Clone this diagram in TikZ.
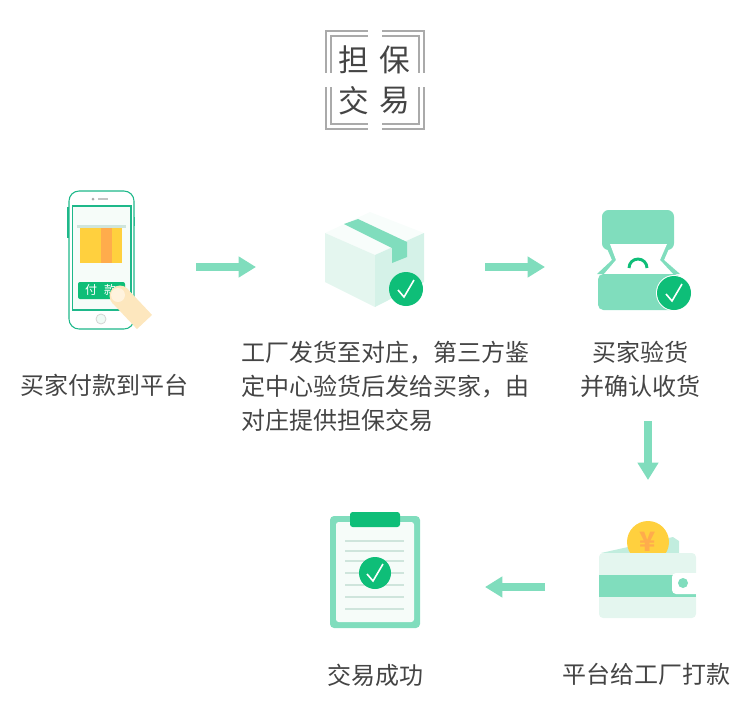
\documentclass[tikz,border=0pt]{standalone}
\usepackage{fontspec}
\setmainfont{Noto Sans CJK SC}
\definecolor{mintgreen}{RGB}{128, 221, 189}
\definecolor{deepgreen}{RGB}{14, 190, 120}
\definecolor{linegreen}{RGB}{30, 184, 138}
\definecolor{palemint}{RGB}{228, 246, 239}
\definecolor{rulegreen}{RGB}{207, 229, 220}
\definecolor{framegray}{RGB}{170, 170, 170}
\definecolor{textgray}{RGB}{68, 68, 68}
\definecolor{coinyellow}{RGB}{255, 208, 62}
\definecolor{coinorange}{RGB}{255, 172, 76}
\definecolor{fingerskin}{RGB}{253, 231, 190}
\definecolor{fingernail}{RGB}{255, 243, 222}
\usetikzlibrary{arrows.meta, positioning}

\tikzset{
  icon/.style={inner sep=0pt, outer sep=0pt},
  caption/.style={inner sep=0pt, outer sep=0pt, text=textgray, align=center, font=\fontsize{18}{25.5}\selectfont},
  titlechar/.style={inner sep=0pt, text=textgray, font=\fontsize{23}{23}\selectfont},
  flow/.style={draw=mintgreen, line width=6.5pt, -{Triangle[length=13pt, width=15pt]}},
  badge/.style={fill=deepgreen},
  tick/.style={draw=white, line width=1.2pt}
}

\begin{document}
\begin{tikzpicture}[x=0.75pt, y=-0.75pt]
  \useasboundingbox (0,0) rectangle (750,718);

  % Title frame
  \draw[framegray, line width=1.6pt] (326,31) rectangle (424,129);
  \draw[framegray, line width=0.8pt] (331,36) rectangle (419,124);
  \fill[white] (368,25) rectangle (382,135);
  \fill[white] (320,73) rectangle (430,87);
  \node[titlechar] (dan) at (354,60) {担};
  \node[titlechar] (bao) at (395,60) {保};
  \node[titlechar] (jiao) at (354,101) {交};
  \node[titlechar] (yi) at (395,101) {易};

  % Icon slots, their borders are where the arrows stop
  \node[icon, minimum width=144pt, minimum height=90pt] (phone) at (100,267) {};
  \node[icon, minimum width=171.75pt, minimum height=90pt] (parcel) at (370.5,267) {};
  \node[icon, minimum width=150pt, minimum height=90pt] (ringbox) at (645,267) {};
  \node[icon, minimum width=154.5pt, minimum height=160.5pt] (wallet) at (648,587) {};
  \node[icon, minimum width=165pt, minimum height=90pt] (clipboard) at (375,587) {};

  % Phone
  \draw[linegreen, line width=0.8pt] (68,207) -- (68,238) (134.5,217) -- (134.5,226);
  \draw[linegreen, line width=0.8pt, fill=white, rounded corners=7.5pt] (69,191) rectangle (134,329);
  \draw[linegreen, line width=0.8pt, fill=palemint!35] (72.5,206) rectangle (131,310);
  \fill[framegray] (93,199) circle (1.5);
  \draw[framegray!70, line width=0.8pt] (98,199) -- (108,199);
  \draw[framegray!50, fill=palemint!60, line width=0.6pt] (101,319) circle (5);
  \fill[coinyellow] (80,227) rectangle (122,263);
  \fill[coinorange] (101,227) rectangle (112,263);
  \fill[rulegreen] (77,225) rectangle (126,228);
  \node[icon, fill=deepgreen, rounded corners=1.5pt, minimum width=35.25pt, minimum height=12.75pt] (paybtn) at (101.5,290.5) {};
  \node[inner sep=0pt, text=white, font=\fontsize{9}{9}\selectfont] (fu) at (91,290) {付};
  \node[inner sep=0pt, text=white, font=\fontsize{9}{9}\selectfont] (kuan) at (110,290) {款};
  \draw[fingerskin, line width=15.5pt] (120,296) -- (144.5,322);
  \fill[fingerskin] (120,296) circle (10.5);
  \fill[fingernail] (118,295) circle (7);

  % Parcel
  \fill[palemint!25] (325,233) -- (370,212) -- (424,233) -- (375,255) -- cycle;
  \fill[palemint] (325,233) -- (375,255) -- (375,307) -- (325,282) -- cycle;
  \fill[palemint!85!mintgreen] (375,255) -- (424,233) -- (424,282) -- (375,307) -- cycle;
  \fill[mintgreen] (344,224) -- (358,219) -- (407,242) -- (407,257) -- (392,263) -- (392,248) -- cycle;

  % Ring box
  \fill[mintgreen, rounded corners=5pt] (602,210) rectangle (674,250);
  \fill[mintgreen] (602,237) -- (674,237) -- (664,260) -- (680,274) -- (597,274) -- (612,260) -- cycle;
  \fill[white] (610,244) -- (667,244) -- (660,260) -- (673,274) -- (604,274) -- (616,260) -- cycle;
  \fill[mintgreen, rounded corners=4pt] (598,274) rectangle (680,310);
  \draw[deepgreen, line width=2.2pt] (629,268) arc[start angle=180, end angle=360, x radius=9, y radius=9];
  \fill[white] (674,293) circle (18);

  % Wallet
  \fill[mintgreen!35!palemint] (601,553) -- (673,537) -- (679,541) -- (679,553) -- cycle;
  \fill[coinyellow] (648,542) circle (21);
  \node[inner sep=0pt, text=coinorange, font=\fontsize{20}{20}\selectfont\bfseries] (yen) at (648,542) {¥};
  \fill[palemint, rounded corners=3pt] (599,553) rectangle (696,618);
  \fill[mintgreen] (599,575) rectangle (696,597);
  \fill[white, rounded corners=3pt] (672,573) rectangle (702,594);
  \fill[white] (696.5,570) rectangle (702,597);
  \fill[mintgreen] (683,583) circle (5);

  % Clipboard
  \fill[mintgreen, rounded corners=3pt] (330,516) rectangle (420,628);
  \fill[palemint!35, rounded corners=2pt] (336,522) rectangle (414,622);
  \fill[deepgreen, rounded corners=2pt] (350,512) rectangle (400,527);
  \foreach \ly in {541,551,561,573,585,597,609}
    \draw[rulegreen, line width=0.9pt] (345,\ly) -- (404,\ly);

  % Check badges
  \foreach \cx/\cy/\cr in {406/289/17, 674/293/17, 375/573/16} {
    \fill[badge] (\cx,\cy) circle (\cr);
    \draw[tick] (\cx-8,\cy+1) -- (\cx-2,\cy+8) -- (\cx+8,\cy-9);
  }

  % Captions
  \node[caption] (paylabel) at (104,385) {买家付款到平台};
  \node[caption, align=left, anchor=west] (parcellabel) at (241,386) {工厂发货至对庄，第三方鉴\\定中心验货后发给买家，由\\对庄提供担保交易};
  \node[caption, minimum height=78pt] (checklabel) at (640,369) {买家验货\\并确认收货};
  \node[caption] (paidlabel) at (646,674) {平台给工厂打款};
  \node[caption] (donelabel) at (375,675) {交易成功};

  % Arrows
  \draw[flow] (phone) -- (parcel);
  \draw[flow] (parcel) -- (ringbox);
  \draw[flow] (wallet.north |- checklabel.south) -- (wallet.north);
  \draw[flow] (wallet) -- (clipboard);
\end{tikzpicture}
\end{document}
